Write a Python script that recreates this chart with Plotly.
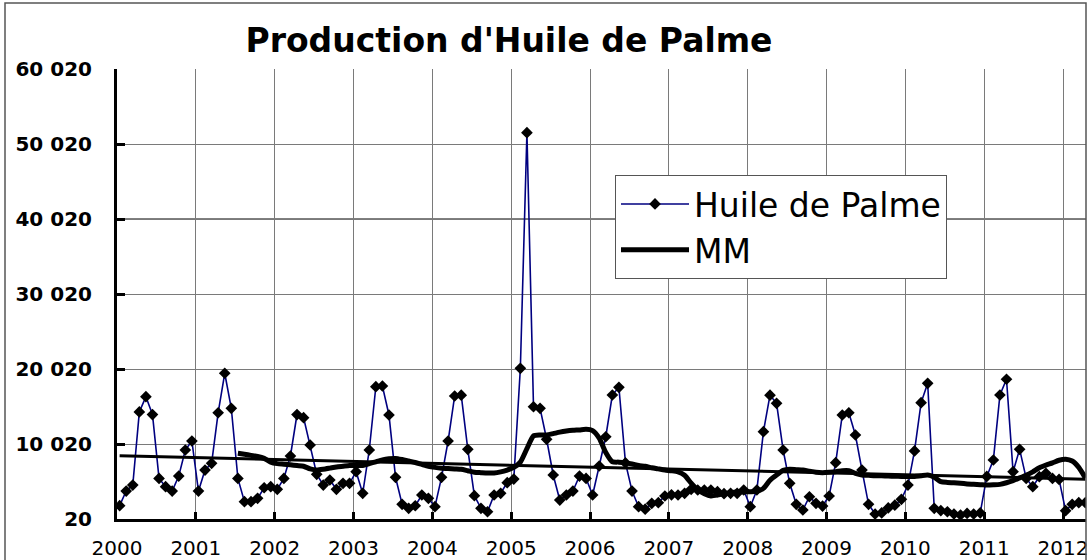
import plotly.graph_objects as go

# ---------------- data ----------------
tick_years = list(range(2000, 2013))
ytick_vals = [20, 10020, 20020, 30020, 40020, 50020, 60020]
ytick_text = ["20", "10 020", "20 020", "30 020", "40 020", "50 020", "60 020"]

# Monthly palm oil production, Jan 2000 .. Apr 2012
palm_2000 = [1800, 3750, 4550, 14300, 16330, 13950, 5430, 4330, 3750, 5750, 9220, 10420]
palm_2001 = [3750, 6550, 7450, 14190, 19450, 14780, 5430, 2330, 2330, 2780, 4190, 4330]
palm_2002 = [3980, 5430, 8420, 13950, 13530, 9890, 5980, 4550, 5220, 3980, 4780, 4780]
palm_2003 = [6330, 3450, 9220, 17660, 17750, 13890, 5580, 1980, 1450, 1790, 3220, 2780]
palm_2004 = [1660, 5580, 10420, 16420, 16530, 9310, 3130, 1450, 990, 3220, 3450, 4860]
palm_2005 = [5350, 20110, 51530, 14990, 14780, 10650, 5890, 2550, 3220, 3750, 5750, 5430]
palm_2006 = [3220, 7090, 10990, 16550, 17580, 7500, 3750, 1660, 1330, 2110, 2200, 3090]
palm_2007 = [3250, 3220, 3450, 3980, 3890, 3890, 3890, 3670, 3400, 3450, 3450, 3890]
palm_2008 = [1660, 3890, 11660, 16530, 15440, 9220, 4780, 1980, 1220, 2990, 2110, 1750]
palm_2009 = [3090, 7530, 13890, 14190, 11220, 6550, 1980, 690, 830, 1500, 1860, 2650]
palm_2010 = [4550, 9100, 15530, 18110, 1450, 1140, 990, 690, 550, 770, 690, 830]
palm_2011 = [5700, 7890, 16550, 18650, 6330, 9310, 5430, 4330, 5660, 6110, 5430, 5300]
palm_2012 = [1130, 1980, 2200, 2200]

# Moving average (MM), Jul 2001 .. Apr 2012
mm_values = [
    8780, 8650, 8500, 8350, 8100, 7600,                                  # 2001 Jul-Dec
    7400, 7330, 7250, 7150, 7050, 6700, 6550, 6650, 6800, 6950, 7050, 7150,  # 2002
    7150, 7150, 7400, 7650, 7900, 8050, 8100, 7950, 7750, 7550, 7300, 7050,  # 2003
    6900, 6800, 6750, 6700, 6650, 6450, 6250, 6200, 6150, 6150, 6300, 6550,  # 2004
    6900, 7600, 9400, 11100, 11220, 11220, 11400, 11600, 11750, 11850, 11900, 11980,  # 2005
    11800, 10800, 8900, 7660, 7600, 7500, 7350, 7150, 7050, 6850, 6700, 6550,  # 2006
    6450, 6300, 5850, 4800, 3900, 3400, 3100, 3200, 3400, 3500, 3650, 3650,  # 2007
    3650, 3700, 4100, 5200, 5900, 6500, 6650, 6600, 6550, 6400, 6250, 6200,  # 2008
    6250, 6330, 6450, 6450, 6100, 5890, 5850, 5800, 5780, 5750, 5720, 5700,  # 2009
    5680, 5700, 5800, 5890, 5600, 5000, 4900, 4850, 4780, 4700, 4650, 4600,  # 2010
    4550, 4580, 4640, 4850, 5130, 5500, 5850, 6300, 6850, 7200, 7500, 7850,  # 2011
    7980, 7750, 6900, 5500,                                              # 2012 Jan-Apr
]

# Linear trend of MM (start / end values)
trend_values = [8460, 5330]

# ---------------- build series ----------------
palm = (palm_2000 + palm_2001 + palm_2002 + palm_2003 + palm_2004 + palm_2005 +
        palm_2006 + palm_2007 + palm_2008 + palm_2009 + palm_2010 + palm_2011 + palm_2012)
months_x = [2000 + (i + 0.4) / 12 for i in range(len(palm))]
mm_start = 18  # Jul 2001
mm_x = [2000 + (mm_start + i + 0.4) / 12 for i in range(len(mm_values))]
trend_x = [months_x[0], months_x[-1]]

fig = go.Figure()
fig.add_trace(go.Scatter(
    x=months_x, y=palm, name="Huile de Palme", mode="lines+markers",
    line=dict(color="#000080", width=1.6),
    marker=dict(symbol="diamond", size=9, color="black"),
))
fig.add_trace(go.Scatter(
    x=mm_x, y=mm_values, name="MM", mode="lines",
    line=dict(color="black", width=5, shape="spline", smoothing=0.6),
))
fig.add_trace(go.Scatter(
    x=trend_x, y=trend_values, name="Tendance", mode="lines",
    line=dict(color="black", width=3), showlegend=False,
))

L, R, T, B = 117, 3, 69, 41
W, H = 1089, 560
pw, ph = W - L - R, H - T - B

fig.update_layout(
    width=W, height=H,
    margin=dict(l=L, r=R, t=T, b=B, autoexpand=False),
    paper_bgcolor="white", plot_bgcolor="white",
    title=dict(text="<b>Production d'Huile de Palme</b>",
               font=dict(family="DejaVu Sans", size=33, color="black"),
               x=509 / W, xanchor="center", y=1 - 40 / H, yanchor="middle"),
    showlegend=True,
    legend=dict(x=(615 - L) / pw, y=1 - (175 - T) / ph, xanchor="left", yanchor="top",
                bgcolor="white", bordercolor="#555555", borderwidth=1,
                font=dict(family="DejaVu Sans", size=33, color="black"),
                itemwidth=68, tracegroupgap=0),
    xaxis=dict(range=[2000, 2000 + (W - R - L) / (946 / 12)],
               tickvals=tick_years, ticktext=[str(y) for y in tick_years],
               showgrid=True, gridcolor="#7a7a7a", gridwidth=1,
               showline=True, linecolor="black", linewidth=3,
               ticks="inside", ticklen=7, tickwidth=3, tickcolor="black",
               tickfont=dict(family="DejaVu Sans", size=20, color="black"),
               ticklabelstandoff=9, zeroline=False, fixedrange=True),
    yaxis=dict(range=[20, 60020], tickvals=ytick_vals, ticktext=ytick_text,
               showgrid=True, gridcolor="#7a7a7a", gridwidth=1,
               showline=True, linecolor="black", linewidth=3,
               ticks="inside", ticklen=8, tickwidth=3, tickcolor="black",
               tickfont=dict(family="DejaVu Sans", size=20, color="black", weight="bold"),
               ticklabelstandoff=18, zeroline=False, fixedrange=True),
    shapes=[
        dict(type="line", xref="paper", yref="y", x0=0, x1=1, y0=40020, y1=40020,
             line=dict(color="black", width=1), layer="below"),
        dict(type="rect", xref="paper", yref="paper",
             x0=(5 - L) / pw, x1=1.0, y0=-0.12, y1=1 + (T - 3) / ph,
             line=dict(color="#555555", width=1.5), layer="above"),
    ],
)

fig.write_html("out.html", config={"displayModeBar": False},
               post_script="document.body.style.margin='0';document.body.style.overflow='hidden';")
